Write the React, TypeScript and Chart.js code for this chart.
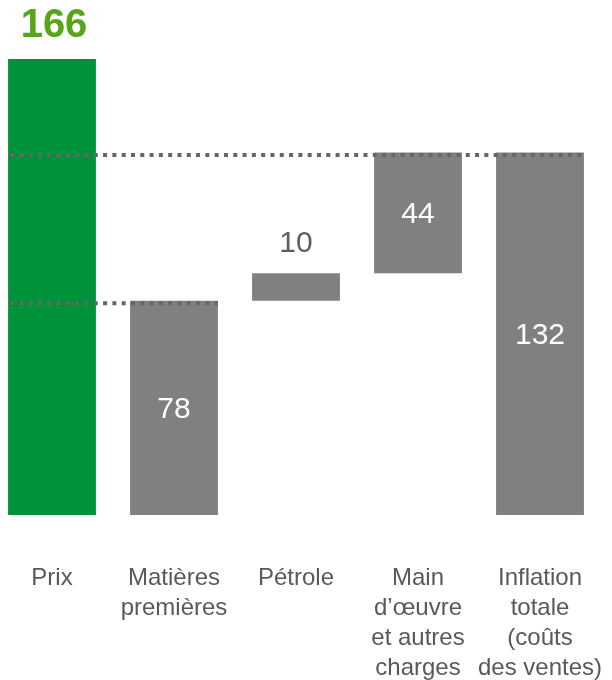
import React, { useEffect, useRef } from "react";
import { Chart, registerables } from "chart.js";

Chart.register(...registerables);

const categories: string[][] = [
  ["Prix"],
  ["Matières", "premières"],
  ["Pétrole"],
  ["Main", "d’œuvre", "et autres", "charges"],
  ["Inflation", "totale", "(coûts", "des ventes)"],
];
const bases = [0, 0, 78, 88, 0];
const values = [166, 78, 10, 44, 132];
const guideLevels = [78, 132];
const guideLastBar = [1, 4];
const yMax = 187.5;

const barColors = ["#00923A", "#808080", "#808080", "#808080", "#808080"];

const overlayPlugin = {
  id: "waterfallOverlay",
  afterDatasetsDraw(chart: any) {
    const ctx = chart.ctx;
    const meta = chart.getDatasetMeta(0);
    const yScale = chart.scales.y;
    // dotted guide lines
    ctx.save();
    ctx.strokeStyle = "#666666";
    ctx.lineWidth = 4;
    ctx.setLineDash([4, 5.3]);
    guideLevels.forEach((lvl, k) => {
      const first = meta.data[0];
      const last = meta.data[guideLastBar[k]];
      const x0 = first.x - first.width / 2 + 2;
      const x1 = last.x + last.width / 2;
      const y = yScale.getPixelForValue(lvl) + 2.5;
      ctx.beginPath();
      ctx.moveTo(x0, y);
      ctx.lineTo(x1, y);
      ctx.stroke();
    });
    ctx.restore();

    // value labels
    ctx.save();
    ctx.textAlign = "center";
    meta.data.forEach((el: any, i: number) => {
      const top = Math.min(el.y, el.base);
      const bottom = Math.max(el.y, el.base);
      const txt = String(values[i]);
      if (i === 0) {
        ctx.font = "bold 40px 'Liberation Sans', Arial, sans-serif";
        ctx.fillStyle = "#58A618";
        ctx.textBaseline = "alphabetic";
        ctx.fillText(txt, el.x + 2, top - 22);
      } else if (bottom - top < 40) {
        ctx.font = "30px 'Liberation Sans', Arial, sans-serif";
        ctx.fillStyle = "#5F5F5F";
        ctx.textBaseline = "middle";
        ctx.fillText(txt, el.x, top - 30);
      } else {
        ctx.font = "30px 'Liberation Sans', Arial, sans-serif";
        ctx.fillStyle = "#FFFFFF";
        ctx.textBaseline = "middle";
        ctx.fillText(txt, el.x, (top + bottom) / 2 + 2);
      }
    });
    ctx.restore();
  },
};

export default function App() {
  const ref = useRef<HTMLCanvasElement | null>(null);
  useEffect(() => {
    if (!ref.current) return;
    const chart = new Chart(ref.current, {
      type: "bar",
      data: {
        labels: categories,
        datasets: [
          {
            data: bases.map((b, i) => [b, b + values[i]]),
            backgroundColor: barColors,
            borderWidth: 0,
            barPercentage: 0.72,
            categoryPercentage: 1,
          },
        ],
      },
      options: {
        responsive: false,
        animation: false,
        layout: { padding: 0 },
        plugins: {
          legend: { display: false },
          tooltip: { enabled: false },
        },
        scales: {
          x: {
            grid: { display: false },
            border: { display: false },
            ticks: {
              color: "#595959",
              font: { family: "'Liberation Sans', Arial, sans-serif", size: 24, lineHeight: 1.25 },
              padding: 40,
              maxRotation: 0,
              autoSkip: false,
            },
            afterFit: (s: any) => {
              s.height = 165;
              s.paddingLeft = 0;
              s.paddingRight = 0;
            },
          },
          y: {
            display: false,
            min: 0,
            max: yMax,
          },
        },
      },
      plugins: [overlayPlugin],
    });
    return () => chart.destroy();
  }, []);
  return (
    <div style={{ position: "absolute", left: -9, top: 0, width: 610, height: 680 }}>
      <canvas ref={ref} width={610} height={680} style={{ display: "block" }} />
    </div>
  );
}
